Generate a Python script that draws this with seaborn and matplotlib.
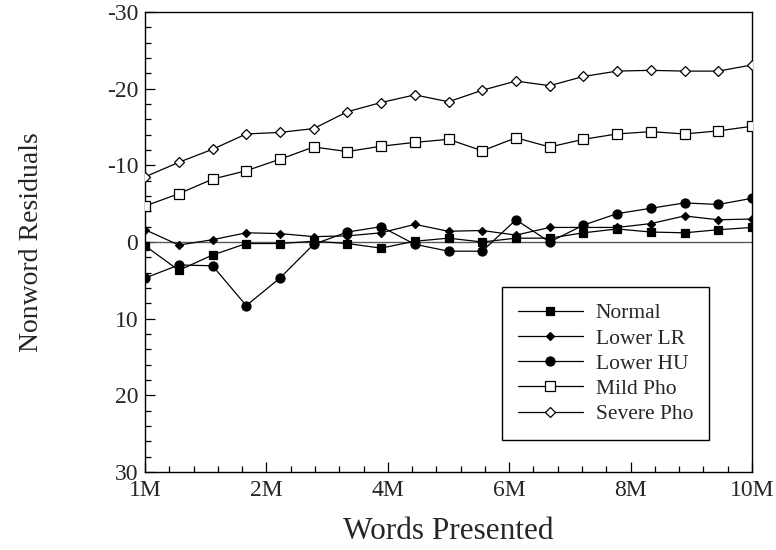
import numpy as np
import pandas as pd
import matplotlib
matplotlib.use("Agg")
import matplotlib.pyplot as plt
import seaborn as sns
from matplotlib.ticker import AutoMinorLocator

# Words presented (millions), one point every 0.5M
words = [1.0, 1.5, 2.0, 2.5, 3.0, 3.5, 4.0, 4.5, 5.0, 5.5,
         6.0, 6.5, 7.0, 7.5, 8.0, 8.5, 9.0, 9.5, 10.0]

normal = [0.5, 3.7, 1.7, 0.2, 0.2, -0.1, 0.2, 0.8, -0.1, -0.5,
          0.0, -0.5, -0.5, -1.2, -1.7, -1.3, -1.2, -1.6, -1.9]
lower_lr = [-1.6, 0.4, -0.3, -1.2, -1.1, -0.7, -0.8, -1.2, -2.3, -1.4,
            -1.5, -0.9, -1.9, -1.9, -1.9, -2.4, -3.4, -2.9, -3.0]
lower_hu = [4.7, 3.0, 3.1, 8.3, 4.7, 0.3, -1.3, -2.0, 0.3, 1.2,
            1.2, -2.9, 0.0, -2.2, -3.7, -4.4, -5.1, -4.9, -5.7]
mild_pho = [-4.7, -6.3, -8.2, -9.3, -10.8, -12.4, -11.8, -12.5, -13.0, -13.4,
            -11.9, -13.6, -12.4, -13.4, -14.1, -14.4, -14.1, -14.5, -15.1]
severe_pho = [-8.5, -10.4, -12.1, -14.1, -14.3, -14.8, -17.0, -18.2, -19.2, -18.3,
              -19.8, -21.0, -20.4, -21.6, -22.3, -22.4, -22.3, -22.3, -23.1]

tick_pos = [1.0, 2.8, 4.6, 6.4, 8.2, 10.0]
tick_labels = ["1M", "2M", "4M", "6M", "8M", "10M"]

sns.set_style("ticks")
plt.rcParams["font.family"] = ["Liberation Serif", "DejaVu Serif"]
plt.rcParams["axes.unicode_minus"] = False

fig, ax = plt.subplots(figsize=(7.76, 5.5), dpi=100)
fig.subplots_adjust(left=0.187, right=0.969, top=0.978, bottom=0.142)

ax.axhline(0, color="0.35", lw=1.0, zorder=1)

series = [
    ("Normal", normal, "s", "black", 6),
    ("Lower LR", lower_lr, "D", "black", 4),
    ("Lower HU", lower_hu, "o", "black", 6.5),
    ("Mild Pho", mild_pho, "s", "white", 6.5),
    ("Severe Pho", severe_pho, "D", "white", 5.5),
]
for name, vals, mk, fc, ms in series:
    sns.lineplot(x=words, y=vals, ax=ax, color="black", lw=0.9,
                 marker=mk, markersize=ms, markerfacecolor=fc,
                 markeredgecolor="black", markeredgewidth=0.9,
                 label=name, zorder=3)

ax.set_xlim(1, 10)
ax.set_ylim(30, -30)
ax.set_xticks(tick_pos)
ax.set_xticklabels(tick_labels)
ax.set_yticks([-30, -20, -10, 0, 10, 20, 30])
ax.xaxis.set_minor_locator(AutoMinorLocator(5))
ax.yaxis.set_minor_locator(AutoMinorLocator(5))
ax.tick_params(which="both", direction="in", top=False, right=False,
               labelsize=17, color="black", width=0.9)
ax.tick_params(axis="x", pad=6)
ax.tick_params(axis="y", pad=5)
ax.tick_params(which="major", length=7)
ax.tick_params(which="minor", length=4)
for sp in ax.spines.values():
    sp.set_visible(True)
    sp.set_color("black")
    sp.set_linewidth(1.0)

ax.set_xlabel("Words Presented", fontsize=22.5, labelpad=11)
ax.set_ylabel("Nonword Residuals", fontsize=20, labelpad=45)

leg = ax.legend(loc="upper left", bbox_to_anchor=(0.588, 0.402),
                borderaxespad=0, fontsize=15.5, frameon=True, fancybox=False,
                framealpha=1, edgecolor="black", handlelength=3.0,
                handletextpad=0.6, labelspacing=0.24, borderpad=0.75)
leg.get_frame().set_linewidth(1.0)

fig.savefig("out.png", dpi=100)
